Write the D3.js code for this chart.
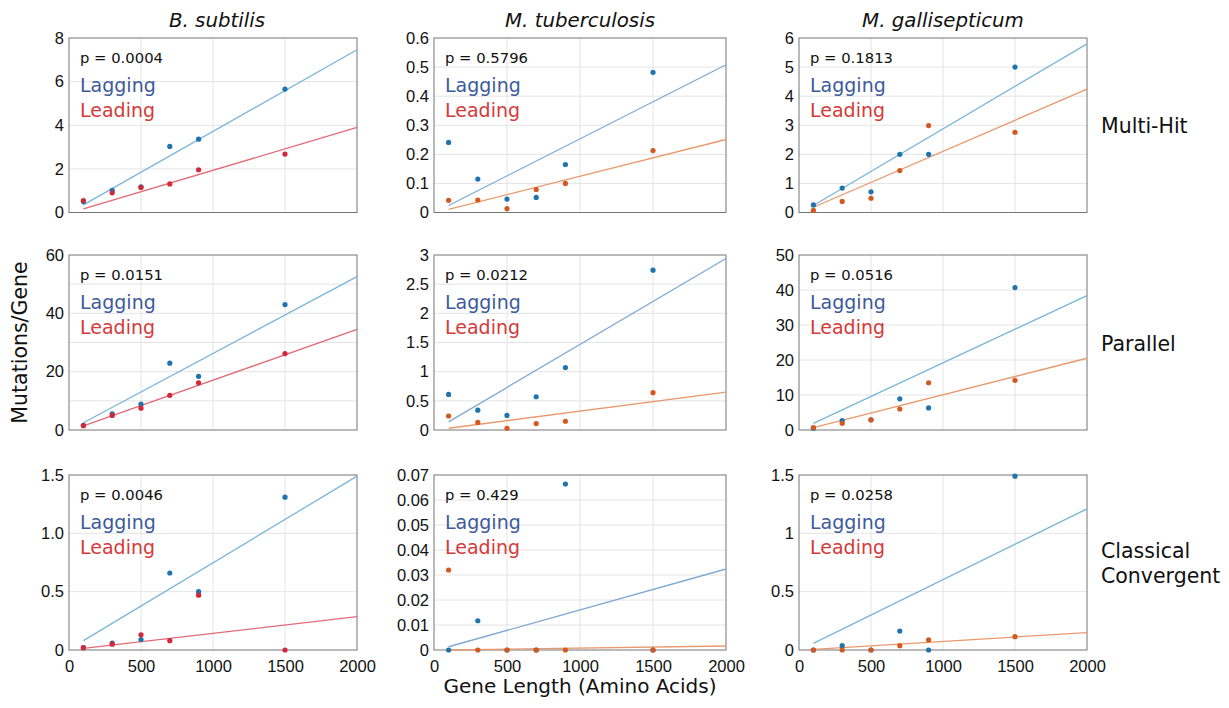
<!DOCTYPE html>
<html lang="en">
<head>
<meta charset="UTF-8">
<title>Mutations per gene vs gene length</title>
<script src="https://d3js.org/d3.v7.min.js"></script>
<style>
    body { margin: 0; background: #fff; }
    svg { display: block; }
    .tick-label { font-family: "Liberation Sans", Arial, sans-serif; font-size: 16.5px; fill: #111; }
    .lbl { font-family: "DejaVu Sans", sans-serif; }
</style>
</head>
<body>
<div id="chart"></div>
<script>
// ---- data ----
const geneLength = [100, 300, 500, 700, 900, 1500];
const organisms = ["B. subtilis", "M. tuberculosis", "M. gallisepticum"];
const categories = [["Multi-Hit"], ["Parallel"], ["Classical", "Convergent"]];

// panels in row order: Multi-Hit (3 organisms), Parallel, Classical Convergent
const pValues = ["0.0004", "0.5796", "0.1813", "0.0151", "0.0212", "0.0516", "0.0046", "0.429", "0.0258"];

const lagging = [
    [0.50, 1.02, 1.18, 3.03, 3.36, 5.66],
    [0.241, 0.115, 0.046, 0.052, 0.165, 0.482],
    [0.26, 0.84, 0.71, 2.0, 2.0, 5.0],
    [1.6, 5.5, 8.9, 22.9, 18.4, 43.0],
    [0.61, 0.34, 0.25, 0.57, 1.07, 2.74],
    [0.5, 2.7, 2.9, 8.9, 6.3, 40.7],
    [0.02, 0.06, 0.09, 0.66, 0.50, 1.31],
    [0, 0.0117, 0, 0, 0.0664, 0],
    [0, 0.037, 0, 0.163, 0, 1.49]
];
const leading = [
    [0.55, 0.90, 1.15, 1.31, 1.96, 2.68],
    [0.042, 0.043, 0.013, 0.079, 0.10, 0.213],
    [0.07, 0.38, 0.49, 1.44, 2.99, 2.76],
    [1.5, 5.0, 7.5, 11.9, 16.2, 26.2],
    [0.24, 0.13, 0.03, 0.11, 0.15, 0.64],
    [0.7, 1.9, 2.9, 6.0, 13.5, 14.2],
    [0.02, 0.05, 0.13, 0.08, 0.47, 0.0],
    [0.032, 0, 0, 0, 0, 0],
    [0, 0, 0, 0.037, 0.086, 0.114]
];

// fitted line values at gene length 100 and 2000
const fitX = [100, 2000];
const lagFit = [[0.35, 7.46], [0.024, 0.508], [0.24, 5.8], [2.5, 52.6], [0.14, 2.94], [1.9, 38.4], [0.08, 1.49], [0.0013, 0.0324], [0.057, 1.21]];
const leadFit = [[0.17, 3.9], [0.011, 0.251], [0.18, 4.24], [1.4, 34.5], [0.03, 0.65], [0.7, 20.5], [0.014, 0.286], [0.0, 0.0016], [0.006, 0.149]];

const xTickLabels = ["0", "500", "1000", "1500", "2000"];
const yTickLabels = [
    ["0", "2", "4", "6", "8"],
    ["0", "0.1", "0.2", "0.3", "0.4", "0.5", "0.6"],
    ["0", "1", "2", "3", "4", "5", "6"],
    ["0", "20", "40", "60"],
    ["0", "0.5", "1", "1.5", "2", "2.5", "3"],
    ["0", "10", "20", "30", "40", "50"],
    ["0", "0.5", "1.0", "1.5"],
    ["0", "0.01", "0.02", "0.03", "0.04", "0.05", "0.06", "0.07"],
    ["0", "0.5", "1", "1.5"]
];
const yGridStep = [2, 0.1, 1, 10, 0.5, 10, 0.5, 0.01, 0.5];

// ---- layout ----
const W = 1229, H = 708;
const colX = [[69, 357], [434, 726], [799, 1087]];
const rowY = [[38, 212.5], [255, 430], [475, 650]];
const palette = [
    { lagDot: "#1f74ae", lagLine: "#78b6d8", leadDot: "#d3283a", leadLine: "#e26a76" },
    { lagDot: "#1f74ae", lagLine: "#7fa9d4", leadDot: "#d4581f", leadLine: "#e89a6e" },
    { lagDot: "#1f74ae", lagLine: "#78b6d8", leadDot: "#d4581f", leadLine: "#e89a6e" }
];

const svg = d3.select("#chart").append("svg")
    .attr("width", W)
    .attr("height", H);

pValues.forEach((p, i) => {
    const row = Math.floor(i / 3), col = i % 3;
    const [x0, x1] = colX[col], [y0, y1] = rowY[row];
    const yTicks = yTickLabels[i].map(Number);
    const yMax = d3.max(yTicks);
    const c = palette[col];

    const x = d3.scaleLinear().domain([0, 2000]).range([x0, x1]);
    const y = d3.scaleLinear().domain([0, yMax]).range([y1, y0]);

    const g = svg.append("g");

    // grid
    const gy = d3.range(yGridStep[i], yMax - 1e-9, yGridStep[i]);
    g.selectAll(".gy").data(gy).enter().append("line")
        .attr("x1", x0).attr("x2", x1)
        .attr("y1", d => y(d)).attr("y2", d => y(d))
        .attr("stroke", "#e4e4e4").attr("stroke-width", 1);
    g.selectAll(".gx").data([500, 1000, 1500]).enter().append("line")
        .attr("x1", d => x(d)).attr("x2", d => x(d))
        .attr("y1", y0).attr("y2", y1)
        .attr("stroke", "#e4e4e4").attr("stroke-width", 1);

    // y axis
    const yAxis = d3.axisLeft(y).tickValues(yTicks)
        .tickFormat((d, k) => yTickLabels[i][k]).tickSize(0).tickPadding(5);
    const ya = g.append("g").attr("transform", `translate(${x0},0)`).call(yAxis);
    ya.select(".domain").remove();
    ya.selectAll("text").attr("class", "tick-label").attr("fill", null);

    // x axis on the bottom row
    if (row === 2) {
        const xAxis = d3.axisBottom(x).tickValues(xTickLabels.map(Number))
            .tickFormat((d, k) => xTickLabels[k]).tickSize(0).tickPadding(10);
        const xa = g.append("g").attr("transform", `translate(0,${y1})`).call(xAxis);
        xa.select(".domain").remove();
        xa.selectAll("text").attr("class", "tick-label").attr("fill", null);
    }

    // frame
    g.append("rect")
        .attr("x", x0).attr("y", y0)
        .attr("width", x1 - x0).attr("height", y1 - y0)
        .attr("fill", "none").attr("stroke", "#757575").attr("stroke-width", 1);

    // fit lines
    const line = d3.line().x(d => x(d[0])).y(d => y(d[1]));
    g.append("path").datum(fitX.map((v, k) => [v, lagFit[i][k]]))
        .attr("d", line).attr("fill", "none")
        .attr("stroke", c.lagLine).attr("stroke-width", 1.3);
    g.append("path").datum(fitX.map((v, k) => [v, leadFit[i][k]]))
        .attr("d", line).attr("fill", "none")
        .attr("stroke", c.leadLine).attr("stroke-width", 1.3);

    // dots
    g.selectAll(".lag").data(lagging[i]).enter().append("circle")
        .attr("cx", (d, k) => x(geneLength[k])).attr("cy", d => y(d))
        .attr("r", 2.6).attr("fill", c.lagDot);
    g.selectAll(".lead").data(leading[i]).enter().append("circle")
        .attr("cx", (d, k) => x(geneLength[k])).attr("cy", d => y(d))
        .attr("r", 2.6).attr("fill", c.leadDot);

    // in-panel text
    g.append("text").attr("class", "lbl")
        .attr("x", x0 + 11).attr("y", y0 + 25)
        .attr("font-size", "14.8px").attr("fill", "#111")
        .text("p = " + p);
    g.append("text").attr("class", "lbl")
        .attr("x", x0 + 11).attr("y", y0 + 54)
        .attr("font-size", "19px").attr("fill", "#3d5a9c")
        .text("Lagging");
    g.append("text").attr("class", "lbl")
        .attr("x", x0 + 11).attr("y", y0 + 78.5)
        .attr("font-size", "19px").attr("fill", "#d43a3a")
        .text("Leading");
});

// column titles
svg.selectAll(".title").data(organisms).enter().append("text")
    .attr("class", "lbl")
    .attr("x", (d, k) => (colX[k][0] + colX[k][1]) / 2 + (k === 0 ? 4 : 0))
    .attr("y", 27)
    .attr("text-anchor", "middle")
    .attr("font-size", "19.8px").attr("font-style", "italic").attr("fill", "#111")
    .text(d => d);

// row labels
categories.forEach((lines, r) => {
    const mid = (rowY[r][0] + rowY[r][1]) / 2;
    const start = mid + 8 - (lines.length - 1) * 12.5;
    lines.forEach((t, k) => {
        svg.append("text").attr("class", "lbl")
            .attr("x", 1101).attr("y", start + k * 25)
            .attr("font-size", "20.5px").attr("fill", "#111")
            .text(t);
    });
});

// axis titles
svg.append("text").attr("class", "lbl")
    .attr("transform", `translate(27,${(rowY[1][0] + rowY[1][1]) / 2}) rotate(-90)`)
    .attr("text-anchor", "middle")
    .attr("font-size", "20.5px").attr("fill", "#111")
    .text("Mutations/Gene");
svg.append("text").attr("class", "lbl")
    .attr("x", (colX[1][0] + colX[1][1]) / 2).attr("y", 693)
    .attr("text-anchor", "middle")
    .attr("font-size", "20px").attr("fill", "#111")
    .text("Gene Length (Amino Acids)");
</script>
</body>
</html>
